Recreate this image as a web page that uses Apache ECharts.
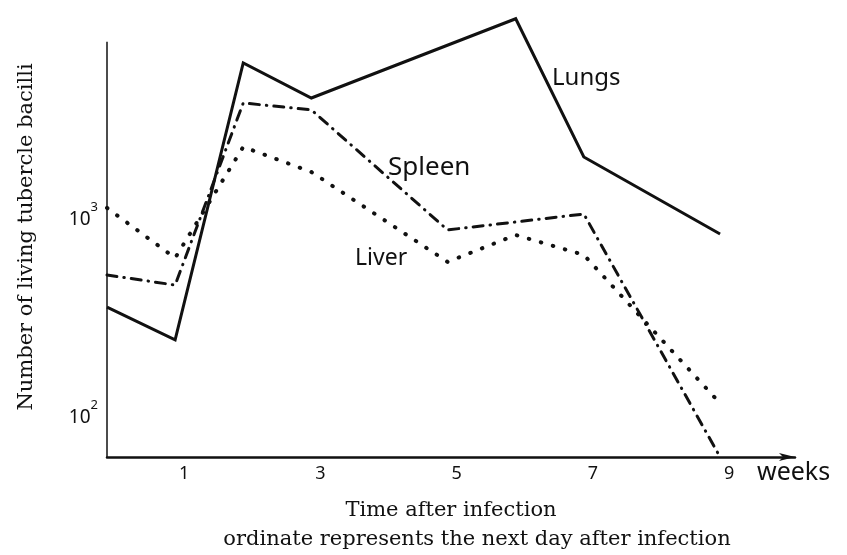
<!DOCTYPE html>
<html>
<head>
<meta charset="utf-8">
<script src="https://cdn.jsdelivr.net/npm/echarts@6/dist/echarts.min.js"></script>
<style>
  html, body { margin: 0; padding: 0; background: #fff; }
  #chart { width: 847px; height: 555px; }
</style>
</head>
<body>
<div id="chart"></div>
<script>
// weeks after infection (0 = next day after infection) and bacilli counts
const lungsWeeks = [0, 1, 2, 3, 6, 7, 9];
const lungsCounts = [343, 234, 5860, 3900, 9800, 1965, 802];
const spleenWeeks = [0, 1, 2, 3, 5, 7, 9];
const spleenCounts = [498, 443, 3680, 3395, 841, 1012, 60];
const liverWeeks = [0, 1, 2, 3, 5, 6, 7, 9];
const liverCounts = [1086, 607, 2208, 1650, 580, 793, 629, 112];
const weekTicks = [1, 3, 5, 7, 9];
const decadeTicks = [100, 1000];

const Y_MIN = 60, Y_MAX = 10000, AXIS_TOP = 7500;
const hand = '"Noto Sans", sans-serif';
const serif = '"DejaVu Serif", serif';

function pairs(xs, ys) {
  return xs.map((x, i) => [x, ys[i]]);
}

const chart = echarts.init(document.getElementById('chart'));

const option = {
  animation: false,
  backgroundColor: '#fff',
  grid: { left: 107, right: 52, top: 17, bottom: 98 },
  xAxis: {
    type: 'value',
    min: 0,
    max: 10.1,
    interval: 1,
    name: 'Time after infection',
    nameLocation: 'middle',
    nameGap: 43,
    nameTextStyle: { fontFamily: serif, fontSize: 21, color: '#111' },
    axisLine: {
      onZero: false,
      symbol: ['none', 'arrow'],
      symbolSize: [6, 16],
      lineStyle: { color: '#111', width: 2.5 }
    },
    axisTick: { show: false },
    splitLine: { show: false },
    axisLabel: {
      margin: 8,
      padding: [0, 0, 0, 18],
      fontFamily: hand,
      fontSize: 18,
      color: '#111',
      showMinLabel: false,
      showMaxLabel: false,
      formatter: v => weekTicks.includes(v) ? String(v) : ''
    }
  },
  yAxis: {
    type: 'log',
    logBase: 10,
    min: Y_MIN,
    max: Y_MAX,
    name: 'Number of living tubercle bacilli',
    nameLocation: 'middle',
    nameGap: 70,
    nameTextStyle: { fontFamily: serif, fontSize: 21, color: '#111' },
    axisLine: { show: false },
    axisTick: { show: false },
    splitLine: { show: false },
    axisLabel: {
      margin: 9,
      color: '#111',
      formatter: v => {
        const d = decadeTicks.find(t => Math.abs(v - t) / t < 0.01);
        return d ? '{b|10}{s|' + Math.round(Math.log10(d)) + '}' : '';
      },
      rich: {
        b: { fontFamily: hand, fontSize: 19, color: '#111', verticalAlign: 'bottom', lineHeight: 28 },
        s: { fontFamily: hand, fontSize: 13, color: '#111', verticalAlign: 'top', lineHeight: 28 }
      }
    }
  },
  series: [
    {
      name: 'Lungs',
      type: 'line',
      data: pairs(lungsWeeks, lungsCounts),
      symbol: 'none',
      lineStyle: { color: '#111', width: 3, join: 'miter' },
      markLine: {
        silent: true,
        symbol: 'none',
        label: { show: false },
        lineStyle: { color: '#111', width: 1.5, type: 'solid' },
        data: [[{ coord: [0, Y_MIN] }, { coord: [0, AXIS_TOP] }]]
      }
    },
    {
      name: 'Spleen',
      type: 'line',
      data: pairs(spleenWeeks, spleenCounts),
      symbol: 'none',
      lineStyle: { color: '#111', width: 3, type: [10, 7, 0.5, 7], cap: 'round' }
    },
    {
      name: 'Liver',
      type: 'line',
      data: pairs(liverWeeks, liverCounts),
      symbol: 'none',
      lineStyle: { color: '#111', width: 4, type: [0.5, 12], cap: 'round' }
    }
  ],
  graphic: [
    { type: 'text', left: 552, top: 66, style: { text: 'Lungs', font: '24px ' + hand, fill: '#111' } },
    { type: 'text', left: 388, top: 155, style: { text: 'Spleen', font: '26px ' + hand, fill: '#111' } },
    { type: 'text', left: 355, top: 247, style: { text: 'Liver', font: '23px ' + hand, fill: '#111' } },
    { type: 'text', left: 757, top: 460, style: { text: 'weeks', font: '25px ' + hand, fill: '#111' } },
    {
      type: 'text', x: 477, y: 540,
      style: {
        text: 'ordinate represents the next day after infection',
        font: '21px ' + serif, fill: '#111', align: 'center', verticalAlign: 'middle'
      }
    }
  ]
};

chart.setOption(option);
</script>
</body>
</html>
